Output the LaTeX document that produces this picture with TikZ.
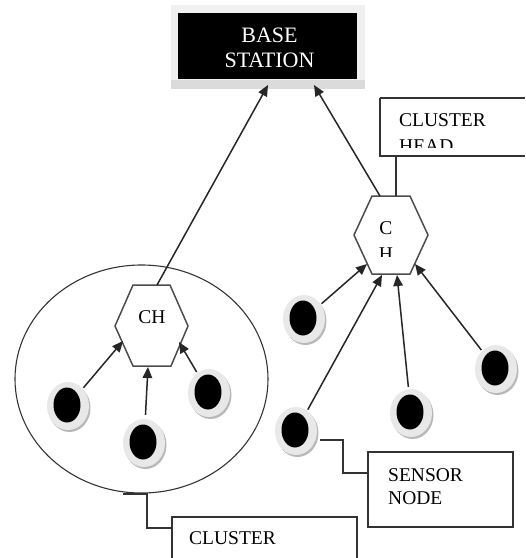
\documentclass[tikz,border=0pt]{standalone}
\usepackage{fontspec}
\setmainfont{Liberation Serif}
\usetikzlibrary{arrows.meta,shapes.geometric,shadows}
\begin{document}
\begin{tikzpicture}[x=1pt,y=-1pt,
  arr/.style={line width=1.5pt, draw=black!85, -{Triangle[length=11pt,width=9.5pt]}},
  ln/.style={line width=1.4pt, draw=black!80},
  hexa/.style={line width=1.5pt, draw=black!70, line join=miter},
  boxl/.style={line width=1.4pt, draw=black!80},
  txt/.style={font=\fontsize{19.5pt}{23pt}\selectfont, inner sep=0pt, anchor=base west},
  sensor/.style={ellipse, minimum width=42pt, minimum height=48pt, inner sep=0pt,
    fill=black!9,
    drop shadow={shadow xshift=1.5pt, shadow yshift=-2pt, fill=black!28, opacity=1},
    path picture={\fill[black] ([xshift=-1pt,yshift=1pt]path picture bounding box.center) ellipse [x radius=13.5pt, y radius=17.5pt];}}
]
\useasboundingbox (0,0) rectangle (526,558);

% Base station
\fill[black!6] (171,5) rectangle (365,89);
\fill[black!14] (171,80) rectangle (365,89);
\fill[black] (178,13) rectangle (357,79);
\node[font=\fontsize{22pt}{25pt}\selectfont, text=white, inner sep=0pt, anchor=base] (bs1) at (269.5,42) {BASE};
\node[font=\fontsize{22pt}{25pt}\selectfont, text=white, inner sep=0pt, anchor=base] (bs2) at (269.5,67.5) {STATION};
\coordinate (bsL) at (268,85);
\coordinate (bsR) at (314,85);

% Cluster ellipse
\draw[line width=1.1pt, draw=black!80] (141.5,379) ellipse [x radius=126.5, y radius=114];

% Left CH hexagon
\draw[hexa] (133,285) -- (170,285) -- (188,326) -- (171,366) -- (133,366) -- (115,326) -- cycle;
\node[font=\fontsize{19.5pt}{23pt}\selectfont, inner sep=0pt, anchor=base] (ch1) at (152,323.5) {CH};
\coordinate (h1top) at (157,285);
\coordinate (h1l) at (123,341);
\coordinate (h1b) at (148,367);
\coordinate (h1r) at (179,342);

% Right CH hexagon
\draw[hexa] (372,196) -- (410,196) -- (428,235) -- (410,274) -- (372,274) -- (354,235) -- cycle;
\begin{scope}
  \clip (354,196) rectangle (428,256.5);
  \node[font=\fontsize{19.5pt}{23pt}\selectfont, inner sep=0pt, anchor=base] (ch2a) at (386,234.5) {C};
  \node[font=\fontsize{19.5pt}{23pt}\selectfont, inner sep=0pt, anchor=base] (ch2b) at (386,260) {H};
\end{scope}
\coordinate (h2top) at (380,196);
\coordinate (h2cb) at (396,196);
\coordinate (h2a) at (367,264);
\coordinate (h2b) at (382,275);
\coordinate (h2c) at (397,275);
\coordinate (h2d) at (415,264);

% Sensor nodes
\node[sensor] (s1) at (68,406) {};
\node[sensor] (s2) at (144,443) {};
\node[sensor] (s3) at (209,393) {};
\node[sensor] (s4) at (304,319) {};
\node[sensor] (s5) at (296,431) {};
\node[sensor] (s6) at (411,413) {};
\node[sensor] (s7) at (496,369) {};

% Arrows
\draw[arr] (h1top) -- (bsL);
\draw[arr] (h2top) -- (bsR);
\draw[arr, shorten <=1pt] (s1) -- (h1l);
\draw[arr, shorten <=4pt] (s2) -- (h1b);
\draw[arr, shorten <=1pt] (s3) -- (h1r);
\draw[arr, shorten <=1pt] (s4) -- (h2a);
\draw[arr, shorten <=1pt] (s5) -- (h2b);
\draw[arr, shorten <=2pt] (s6) -- (h2c);
\draw[arr, shorten <=1pt] (s7) -- (h2d);

% Cluster head callout
\draw[boxl] (380,98) -- (525,98) (380,98) -- (380,156) -- (525,156);
\coordinate (chbox) at (396,156);
\draw[ln] (h2cb) -- (chbox);
\begin{scope}
  \clip (380,98) rectangle (525,147.5);
  \node[txt] (t1) at (399,126.5) {CLUSTER};
  \node[txt] (t2) at (399,152) {HEAD};
\end{scope}

% Sensor node callout
\draw[boxl] (368,452) rectangle (513,527);
\node[txt] (t3) at (388,481) {SENSOR};
\node[txt] (t4) at (388,504) {NODE};
\coordinate (snA) at (320,440);
\coordinate (snB) at (343,440);
\coordinate (snC) at (343,473);
\coordinate (snD) at (368,473);
\draw[ln] (snA) -- (snB) -- (snC) -- (snD);

% Cluster callout
\draw[boxl] (172,558) -- (172,517) -- (357,517) -- (357,558);
\node[txt] (t5) at (189,544.5) {CLUSTER};
\coordinate (clA) at (123,494);
\coordinate (clB) at (147,494);
\coordinate (clC) at (147,528);
\coordinate (clD) at (172,528);
\draw[ln] (clA) -- (clB) -- (clC) -- (clD);
\end{tikzpicture}
\end{document}
